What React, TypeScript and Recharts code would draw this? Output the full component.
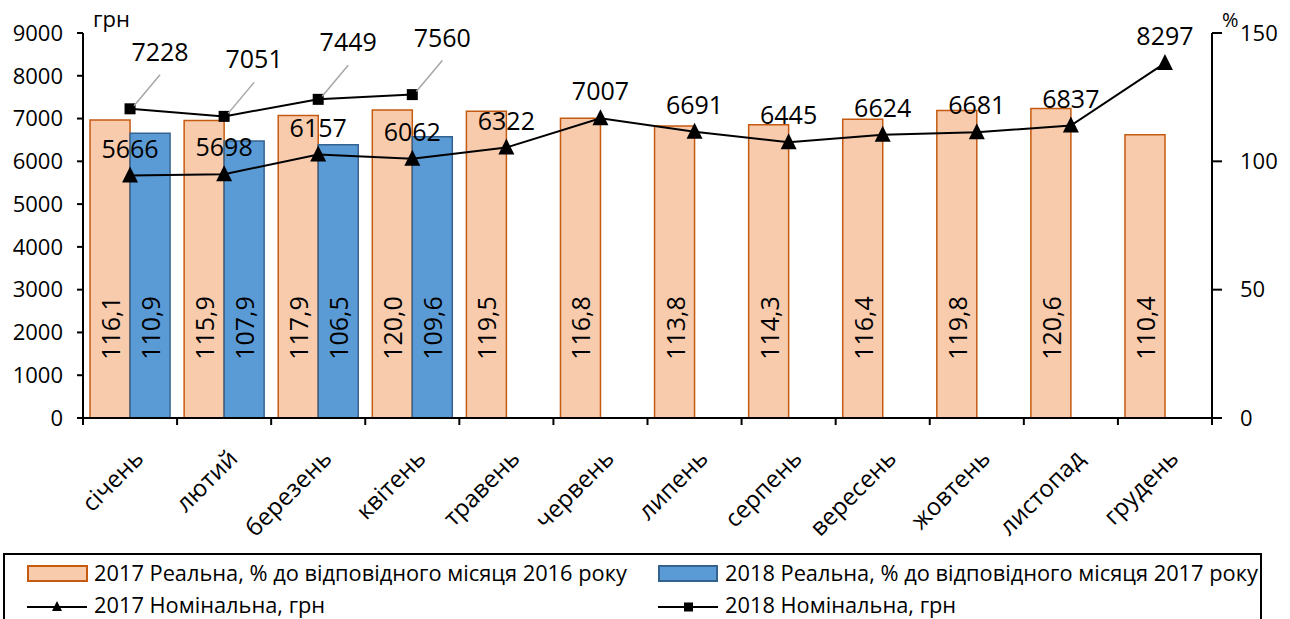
import React from 'react';
import { ComposedChart, Bar, Line, XAxis, YAxis, LabelList, Legend } from 'recharts';

const months = ['січень', 'лютий', 'березень', 'квітень', 'травень', 'червень', 'липень', 'серпень', 'вересень', 'жовтень', 'листопад', 'грудень'];
const real2017 = [116.1, 115.9, 117.9, 120.0, 119.5, 116.8, 113.8, 114.3, 116.4, 119.8, 120.6, 110.4];
const real2018 = [110.9, 107.9, 106.5, 109.6];
const nom2017 = [5666, 5698, 6157, 6062, 6322, 7007, 6691, 6445, 6624, 6681, 6837, 8297];
const nom2018 = [7228, 7051, 7449, 7560];
const leftTicks = [0, 1000, 2000, 3000, 4000, 5000, 6000, 7000, 8000, 9000];
const rightTicks = [0, 50, 100, 150];

const seriesNames = {
  r2017: '2017 Реальна, % до відповідного місяця 2016 року',
  r2018: '2018 Реальна, % до відповідного місяця 2017 року',
  n2017: '2017 Номінальна, грн',
  n2018: '2018 Номінальна, грн',
};

const data = months.map((m, i) => ({
  month: m,
  r2017: real2017[i],
  r2018: i < real2018.length ? real2018[i] : null,
  n2017: nom2017[i],
  n2018: i < nom2018.length ? nom2018[i] : null,
}));

const FONT = '"Open Sans", sans-serif';
const W = 1290;
const H = 619;
const LEFT_W = 83;
const RIGHT_W = 78;
const TOP = 33;
const XAXIS_H = 201;
const BAND = (W - LEFT_W - RIGHT_W) / months.length;

const C17 = '#F8CBAD';
const C17S = '#C55A11';
const C18 = '#5B9BD5';
const C18S = '#35638F';

const fmt = (v: number) => v.toFixed(1).replace('.', ',');

const MonthTick = (props: any) => {
  const { x, y, payload, index } = props;
  const ax = x + 15;
  const ay = y + 42;
  const left = x - BAND / 2;
  return (
    <g>
      <line x1={left} y1={y} x2={left} y2={y + 7} stroke="#000" strokeWidth={2} />
      {index === months.length - 1 && (
        <line x1={x + BAND / 2} y1={y} x2={x + BAND / 2} y2={y + 7} stroke="#000" strokeWidth={2} />
      )}
      <text x={ax} y={ay} textAnchor="end" transform={`rotate(-45, ${ax}, ${ay})`} fontSize={24} fontFamily={FONT} fill="#000">
        {payload.value}
      </text>
    </g>
  );
};

const BarValueLabel = (props: any) => {
  const { x, y, width, height, value } = props;
  if (value == null) return null;
  const cx = x + width / 2;
  const cy = y + height - 90;
  return (
    <text x={cx} y={cy} textAnchor="middle" dominantBaseline="central" transform={`rotate(-90, ${cx}, ${cy})`} fontSize={25} fontFamily={FONT} fill="#000">
      {fmt(Number(value))}
    </text>
  );
};

const Nom2017Label = (props: any) => {
  const { x, y, value } = props;
  if (value == null) return null;
  return (
    <text x={x} y={y - 28} textAnchor="middle" dominantBaseline="central" fontSize={25} fontFamily={FONT} fill="#000">
      {value}
    </text>
  );
};

const Nom2018Label = (props: any) => {
  const { x, y, value } = props;
  if (value == null) return null;
  return (
    <g>
      <line x1={x + 4} y1={y - 3} x2={x + 30} y2={y - 34} stroke="#A6A6A6" strokeWidth={1.5} />
      <text x={x + 30} y={y - 58} textAnchor="middle" dominantBaseline="central" fontSize={25} fontFamily={FONT} fill="#000">
        {value}
      </text>
    </g>
  );
};

const TriangleDot = (props: any) => {
  const { cx, cy } = props;
  if (cx == null || cy == null) return null;
  return <path d={`M${cx},${cy - 9} L${cx + 8},${cy + 7} L${cx - 8},${cy + 7} Z`} fill="#000" />;
};

const SquareDot = (props: any) => {
  const { cx, cy } = props;
  if (cx == null || cy == null) return null;
  return <rect x={cx - 5.5} y={cy - 5.5} width={11} height={11} fill="#000" />;
};

const LegendContent = () => {
  const textStyle: React.CSSProperties = {
    position: 'absolute',
    fontFamily: FONT,
    fontSize: 21.8,
    color: '#000',
    whiteSpace: 'nowrap',
    lineHeight: '28px',
  };
  const row1 = 20;
  const row2 = 54;
  return (
    <div style={{ position: 'relative', width: 1259, height: 75, border: '2px solid #000', boxSizing: 'border-box', background: '#fff' }}>
      <div style={{ position: 'absolute', left: 22, top: row1 - 10, width: 57, height: 13, background: C17, border: `2px solid ${C17S}` }} />
      <div style={{ ...textStyle, left: 89, top: row1 - 16 }}>{seriesNames.r2017}</div>
      <div style={{ position: 'absolute', left: 653, top: row1 - 10, width: 56, height: 13, background: C18, border: `2px solid ${C18S}` }} />
      <div style={{ ...textStyle, left: 720, top: row1 - 16 }}>{seriesNames.r2018}</div>
      <svg style={{ position: 'absolute', left: 0, top: row2 - 10 }} width={100} height={20}>
        <line x1={22} y1={8} x2={82} y2={8} stroke="#000" strokeWidth={2} />
        <path d="M52,2 L57,12 L47,12 Z" fill="#000" />
      </svg>
      <div style={{ ...textStyle, left: 89, top: row2 - 18 }}>{seriesNames.n2017}</div>
      <svg style={{ position: 'absolute', left: 631, top: row2 - 10 }} width={100} height={20}>
        <line x1={22} y1={8} x2={82} y2={8} stroke="#000" strokeWidth={2} />
        <rect x={48} y={3.5} width={9} height={9} fill="#000" />
      </svg>
      <div style={{ ...textStyle, left: 720, top: row2 - 18 }}>{seriesNames.n2018}</div>
    </div>
  );
};

export default function App() {
  return (
    <div style={{ position: 'absolute', left: 0, top: 0, width: W, height: H, overflow: 'hidden', background: '#fff' }}>
      <ComposedChart
        width={W}
        height={H}
        data={data}
        margin={{ top: TOP, right: 0, bottom: 0, left: 0 }}
        barCategoryGap="7.5%"
        barGap={0}
      >
        <XAxis
          dataKey="month"
          interval={0}
          height={XAXIS_H}
          tickLine={false}
          tickSize={0}
          tickMargin={0}
          axisLine={{ stroke: '#000', strokeWidth: 2 }}
          tick={<MonthTick />}
        />
        <YAxis
          yAxisId="left"
          orientation="left"
          width={LEFT_W}
          domain={[0, 9000]}
          ticks={leftTicks}
          interval={0}
          tickSize={6}
          tickMargin={14}
          axisLine={{ stroke: '#000', strokeWidth: 2 }}
          tickLine={{ stroke: '#000', strokeWidth: 2 }}
          tick={{ fill: '#000', fontSize: 22, fontFamily: FONT }}
          label={{
            content: () => (
              <text x={93} y={27} fontSize={22} fontFamily={FONT} fill="#000">грн</text>
            ),
          }}
        />
        <YAxis
          yAxisId="right"
          orientation="right"
          width={RIGHT_W}
          domain={[0, 150]}
          ticks={rightTicks}
          interval={0}
          tickSize={10}
          tickMargin={18}
          axisLine={{ stroke: '#000', strokeWidth: 2 }}
          tickLine={{ stroke: '#000', strokeWidth: 2 }}
          tick={{ fill: '#000', fontSize: 22, fontFamily: FONT, textAnchor: 'start' }}
          label={{
            content: () => (
              <text x={1222} y={27} fontSize={20} fontFamily={FONT} fill="#000">%</text>
            ),
          }}
        />
        <Bar yAxisId="right" dataKey="r2017" name={seriesNames.r2017} fill={C17} stroke={C17S} strokeWidth={1.5} isAnimationActive={false}>
          <LabelList dataKey="r2017" content={<BarValueLabel />} />
        </Bar>
        <Bar yAxisId="right" dataKey="r2018" name={seriesNames.r2018} fill={C18} stroke={C18S} strokeWidth={1.5} isAnimationActive={false}>
          <LabelList dataKey="r2018" content={<BarValueLabel />} />
        </Bar>
        <Line yAxisId="left" dataKey="n2017" name={seriesNames.n2017} stroke="#000" strokeWidth={2} dot={<TriangleDot />} activeDot={false} isAnimationActive={false}>
          <LabelList dataKey="n2017" content={<Nom2017Label />} />
        </Line>
        <Line yAxisId="left" dataKey="n2018" name={seriesNames.n2018} stroke="#000" strokeWidth={2} dot={<SquareDot />} activeDot={false} connectNulls={false} isAnimationActive={false}>
          <LabelList dataKey="n2018" content={<Nom2018Label />} />
        </Line>
        <Legend
          layout="vertical"
          align="center"
          verticalAlign="middle"
          content={<LegendContent />}
          wrapperStyle={{ position: 'absolute', left: 3, top: 553, width: 1259, height: 75, margin: 0, padding: 0 }}
        />
      </ComposedChart>
    </div>
  );
}
